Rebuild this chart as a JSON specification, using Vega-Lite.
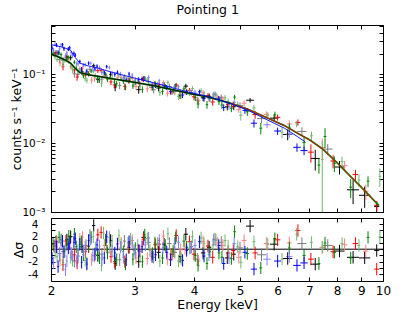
{
  "$schema": "https://vega.github.io/schema/vega-lite/v6.json",
  "background": "white",
  "padding": {"left": 10, "top": 4, "right": 20, "bottom": 2},
  "spacing": -4,
  "title": {"text": "Pointing 1", "fontSize": 12.5, "font": "DejaVu Sans", "fontWeight": "normal", "color": "#000", "anchor": "middle", "offset": 4, "dx": 7},
  "config": {
    "font": "DejaVu Sans",
    "view": {"stroke": "#000", "strokeWidth": 1},
    "axis": {"domain": false, "grid": false, "tickColor": "#000", "labelColor": "#000", "titleColor": "#000", "labelFont": "DejaVu Sans", "titleFont": "DejaVu Sans", "titleFontWeight": "normal", "labelFontSize": 11, "titleFontSize": 12.5, "tickSize": -4, "labelPadding": 7, "labelOverlap": false, "labelFlush": false}
  },
  "datasets": {
    "pts": [
      {"s":"k","e":2.05,"w":0.02,"v":0.205,"d":0.018,"r":1.2},
      {"s":"k2","e":2.085,"w":0.02,"v":0.163,"d":0.0175,"r":-0.7},
      {"s":"k2","e":2.12,"w":0.02,"v":0.161,"d":0.017,"r":-0.4},
      {"s":"k","e":2.16,"w":0.02,"v":0.179,"d":0.0156,"r":1.5},
      {"s":"k","e":2.2,"w":0.02,"v":0.174,"d":0.0145,"r":2.0},
      {"s":"k2","e":2.24,"w":0.02,"v":0.102,"d":0.0126,"r":-1.9},
      {"s":"k2","e":2.28,"w":0.02,"v":0.100,"d":0.011,"r":-1.1},
      {"s":"k","e":2.325,"w":0.02,"v":0.108,"d":0.0104,"r":0.4},
      {"s":"k2","e":2.37,"w":0.02,"v":0.107,"d":0.010,"r":0.6},
      {"s":"k2","e":2.415,"w":0.02,"v":0.119,"d":0.0098,"r":2.2},
      {"s":"k","e":2.46,"w":0.02,"v":0.133,"d":0.0097,"r":3.8},
      {"s":"k","e":2.51,"w":0.02,"v":0.0842,"d":0.0094,"r":-1.0},
      {"s":"k2","e":2.56,"w":0.02,"v":0.085,"d":0.0093,"r":-0.8},
      {"s":"k2","e":2.615,"w":0.02,"v":0.0947,"d":0.0089,"r":0.6},
      {"s":"k","e":2.67,"w":0.02,"v":0.100,"d":0.0088,"r":1.4},
      {"s":"k","e":2.73,"w":0.02,"v":0.0653,"d":0.0085,"r":-2.3},
      {"s":"k2","e":2.79,"w":0.02,"v":0.0689,"d":0.0083,"r":-1.7},
      {"s":"k2","e":2.855,"w":0.02,"v":0.0915,"d":0.0081,"r":1.3},
      {"s":"k","e":2.92,"w":0.02,"v":0.0814,"d":0.0079,"r":0.3},
      {"s":"k2","e":2.99,"w":0.02,"v":0.0753,"d":0.0077,"r":-0.2},
      {"s":"k","e":3.06,"w":0.035,"v":0.0598,"d":0.0075,"r":-2.0},
      {"s":"k","e":3.135,"w":0.035,"v":0.0866,"d":0.0073,"r":1.9},
      {"s":"k2","e":3.21,"w":0.035,"v":0.0786,"d":0.0071,"r":1.1},
      {"s":"k2","e":3.29,"w":0.035,"v":0.0596,"d":0.0069,"r":-1.3},
      {"s":"k","e":3.37,"w":0.035,"v":0.0632,"d":0.0067,"r":-0.5},
      {"s":"k","e":3.46,"w":0.035,"v":0.0687,"d":0.0064,"r":0.8},
      {"s":"k2","e":3.55,"w":0.04,"v":0.0667,"d":0.0061,"r":0.9},
      {"s":"k2","e":3.645,"w":0.04,"v":0.0561,"d":0.0059,"r":-0.5},
      {"s":"k","e":3.74,"w":0.04,"v":0.0497,"d":0.0057,"r":-1.2},
      {"s":"k","e":3.845,"w":0.04,"v":0.0673,"d":0.0054,"r":2.4},
      {"s":"k2","e":3.95,"w":0.04,"v":0.0543,"d":0.0052,"r":0.4},
      {"s":"k2","e":4.065,"w":0.045,"v":0.0423,"d":0.005,"r":-1.6},
      {"s":"k","e":4.18,"w":0.045,"v":0.0456,"d":0.0049,"r":-0.6},
      {"s":"k","e":4.305,"w":0.045,"v":0.0478,"d":0.0046,"r":0.3},
      {"s":"k2","e":4.43,"w":0.05,"v":0.0517,"d":0.0045,"r":1.6},
      {"s":"k2","e":4.565,"w":0.05,"v":0.0464,"d":0.0042,"r":1.1},
      {"s":"k","e":4.7,"w":0.05,"v":0.0337,"d":0.0039,"r":-1.4},
      {"s":"k","e":4.85,"w":0.05,"v":0.0338,"d":0.0037,"r":-0.8},
      {"s":"k2","e":5.0,"w":0.08,"v":0.0351,"d":0.0041,"r":0.2},
      {"s":"k","e":5.25,"w":0.1,"v":0.042,"d":0.0032,"r":3.7},
      {"s":"k2","e":5.55,"w":0.12,"v":0.0227,"d":0.0031,"r":-0.9},
      {"s":"k","e":5.9,"w":0.12,"v":0.0231,"d":0.0025,"r":0.8},
      {"s":"k","e":6.3,"w":0.14,"v":0.0134,"d":0.0024,"r":-1.5},
      {"s":"k2","e":6.75,"w":0.15,"v":0.0148,"d":0.0021,"r":0.9},
      {"s":"k","e":7.2,"w":0.16,"v":0.006,"d":0.002,"r":-2.4},
      {"s":"k2","e":7.65,"w":0.18,"v":0.0082,"d":0.0015,"r":0.6},
      {"s":"k","e":8.1,"w":0.2,"v":0.0045,"d":0.001,"r":-0.3},
      {"s":"k","e":8.65,"w":0.25,"v":0.0021,"d":0.0008,"r":-1.3},
      {"s":"k","e":9.15,"w":0.25,"v":0.00175,"d":0.0006,"r":-1.4},
      {"s":"k","e":9.7,"w":0.12,"v":0.0012,"d":0.0002,"r":-0.2},
      {"s":"r","e":2.03,"w":0.015,"v":0.197,"d":0.017,"r":0.5},
      {"s":"r2","e":2.06,"w":0.015,"v":0.201,"d":0.0165,"r":1.1},
      {"s":"r2","e":2.09,"w":0.015,"v":0.146,"d":0.0157,"r":-1.8},
      {"s":"r","e":2.12,"w":0.015,"v":0.129,"d":0.015,"r":-2.5},
      {"s":"r","e":2.15,"w":0.015,"v":0.176,"d":0.0142,"r":1.3},
      {"s":"r2","e":2.18,"w":0.015,"v":0.155,"d":0.0136,"r":0.3},
      {"s":"r2","e":2.21,"w":0.015,"v":0.132,"d":0.0127,"r":-0.7},
      {"s":"r","e":2.24,"w":0.015,"v":0.116,"d":0.0113,"r":-0.9},
      {"s":"r","e":2.27,"w":0.015,"v":0.091,"d":0.0103,"r":-2.2},
      {"s":"r2","e":2.30,"w":0.015,"v":0.121,"d":0.0095,"r":1.6},
      {"s":"r2","e":2.33,"w":0.015,"v":0.122,"d":0.0094,"r":1.9},
      {"s":"r","e":2.365,"w":0.015,"v":0.0974,"d":0.0091,"r":-0.4},
      {"s":"r","e":2.40,"w":0.015,"v":0.1015,"d":0.0088,"r":0.4},
      {"s":"r2","e":2.435,"w":0.015,"v":0.0822,"d":0.0087,"r":-1.7},
      {"s":"r2","e":2.47,"w":0.015,"v":0.086,"d":0.0086,"r":-1.1},
      {"s":"r","e":2.51,"w":0.02,"v":0.1129,"d":0.0084,"r":2.3},
      {"s":"r","e":2.55,"w":0.02,"v":0.114,"d":0.0083,"r":2.7},
      {"s":"r2","e":2.59,"w":0.02,"v":0.0954,"d":0.0081,"r":0.6},
      {"s":"r2","e":2.63,"w":0.02,"v":0.085,"d":0.008,"r":-0.5},
      {"s":"r","e":2.675,"w":0.02,"v":0.0776,"d":0.0078,"r":-1.2},
      {"s":"r","e":2.72,"w":0.02,"v":0.070,"d":0.0077,"r":-2.0},
      {"s":"r2","e":2.765,"w":0.02,"v":0.0904,"d":0.0075,"r":0.9},
      {"s":"r2","e":2.81,"w":0.02,"v":0.090,"d":0.0074,"r":1.0},
      {"s":"r","e":2.86,"w":0.02,"v":0.0664,"d":0.0073,"r":-2.0},
      {"s":"r","e":2.91,"w":0.02,"v":0.0816,"d":0.0072,"r":0.3},
      {"s":"r2","e":2.965,"w":0.025,"v":0.0874,"d":0.007,"r":1.4},
      {"s":"r2","e":3.02,"w":0.025,"v":0.0664,"d":0.0068,"r":-1.4},
      {"s":"r","e":3.075,"w":0.025,"v":0.0725,"d":0.0067,"r":-0.3},
      {"s":"r","e":3.13,"w":0.025,"v":0.0835,"d":0.0066,"r":1.6},
      {"s":"r2","e":3.19,"w":0.025,"v":0.0614,"d":0.0064,"r":-1.5},
      {"s":"r2","e":3.25,"w":0.03,"v":0.0643,"d":0.0063,"r":-0.9},
      {"s":"r","e":3.315,"w":0.03,"v":0.0719,"d":0.0061,"r":0.7},
      {"s":"r","e":3.38,"w":0.03,"v":0.0705,"d":0.0059,"r":0.8},
      {"s":"r2","e":3.45,"w":0.03,"v":0.0759,"d":0.0057,"r":2.1},
      {"s":"r2","e":3.52,"w":0.03,"v":0.0531,"d":0.0056,"r":-1.6},
      {"s":"r","e":3.595,"w":0.035,"v":0.0558,"d":0.0054,"r":-0.8},
      {"s":"r","e":3.67,"w":0.035,"v":0.0697,"d":0.0052,"r":2.2},
      {"s":"r2","e":3.75,"w":0.035,"v":0.0558,"d":0.0051,"r":-0.1},
      {"s":"r2","e":3.83,"w":0.035,"v":0.0550,"d":0.0049,"r":0.1},
      {"s":"r","e":3.915,"w":0.04,"v":0.0585,"d":0.0048,"r":1.2},
      {"s":"r","e":4.0,"w":0.04,"v":0.0471,"d":0.0051,"r":-0.8},
      {"s":"r2","e":4.09,"w":0.04,"v":0.0412,"d":0.0045,"r":-1.9},
      {"s":"r2","e":4.18,"w":0.04,"v":0.0540,"d":0.0048,"r":1.2},
      {"s":"r","e":4.28,"w":0.045,"v":0.0489,"d":0.0042,"r":0.5},
      {"s":"r","e":4.38,"w":0.045,"v":0.0396,"d":0.0046,"r":-1.3},
      {"s":"r2","e":4.49,"w":0.045,"v":0.0468,"d":0.0039,"r":1.0},
      {"s":"r2","e":4.6,"w":0.05,"v":0.0437,"d":0.0041,"r":0.6},
      {"s":"r","e":4.72,"w":0.05,"v":0.0368,"d":0.0035,"r":-0.6},
      {"s":"r","e":4.84,"w":0.05,"v":0.0361,"d":0.0037,"r":-0.2},
      {"s":"r2","e":4.97,"w":0.06,"v":0.0306,"d":0.0031,"r":-1.3},
      {"s":"r2","e":5.1,"w":0.06,"v":0.0380,"d":0.0039,"r":1.4},
      {"s":"r","e":5.38,"w":0.07,"v":0.026,"d":0.0034,"r":-0.6},
      {"s":"r2","e":5.68,"w":0.07,"v":0.0261,"d":0.0028,"r":0.9},
      {"s":"r","e":6.0,"w":0.08,"v":0.0237,"d":0.0024,"r":1.5},
      {"s":"r2","e":6.35,"w":0.08,"v":0.0190,"d":0.0025,"r":1.0},
      {"s":"r","e":6.62,"w":0.08,"v":0.0200,"d":0.0021,"r":3.0},
      {"s":"r","e":7.05,"w":0.1,"v":0.0074,"d":0.0022,"r":-1.6},
      {"s":"r2","e":7.45,"w":0.1,"v":0.0086,"d":0.003,"r":0.3},
      {"s":"r","e":7.85,"w":0.1,"v":0.0055,"d":0.0012,"r":-0.4},
      {"s":"r2","e":8.3,"w":0.12,"v":0.0047,"d":0.0008,"r":0.7},
      {"s":"r","e":8.75,"w":0.12,"v":0.0035,"d":0.0006,"r":0.9},
      {"s":"r2","e":9.2,"w":0.12,"v":0.0020,"d":0.0005,"r":-0.3},
      {"s":"r","e":9.7,"w":0.12,"v":0.00125,"d":0.0002,"r":-3.2},
      {"s":"g","e":2.02,"w":0.012,"v":0.202,"d":0.015,"r":0.8},
      {"s":"g2","e":2.04,"w":0.012,"v":0.1795,"d":0.015,"r":-0.5},
      {"s":"g2","e":2.06,"w":0.012,"v":0.164,"d":0.0145,"r":-1.2},
      {"s":"g","e":2.08,"w":0.012,"v":0.204,"d":0.0142,"r":1.9},
      {"s":"g","e":2.10,"w":0.012,"v":0.193,"d":0.0138,"r":1.5},
      {"s":"g2","e":2.12,"w":0.012,"v":0.139,"d":0.0134,"r":-2.1},
      {"s":"g2","e":2.14,"w":0.012,"v":0.158,"d":0.013,"r":-0.3},
      {"s":"g","e":2.16,"w":0.012,"v":0.166,"d":0.0125,"r":0.8},
      {"s":"g","e":2.18,"w":0.012,"v":0.176,"d":0.012,"r":2.1},
      {"s":"g2","e":2.20,"w":0.012,"v":0.130,"d":0.0116,"r":-1.3},
      {"s":"g2","e":2.22,"w":0.012,"v":0.116,"d":0.011,"r":-1.8},
      {"s":"g","e":2.24,"w":0.012,"v":0.150,"d":0.0101,"r":2.4},
      {"s":"g","e":2.26,"w":0.012,"v":0.123,"d":0.0095,"r":0.4},
      {"s":"g2","e":2.28,"w":0.012,"v":0.110,"d":0.009,"r":-0.2},
      {"s":"g2","e":2.30,"w":0.012,"v":0.115,"d":0.0085,"r":1.1},
      {"s":"g","e":2.32,"w":0.012,"v":0.114,"d":0.0083,"r":1.2},
      {"s":"g","e":2.34,"w":0.012,"v":0.0956,"d":0.0082,"r":-0.9},
      {"s":"g2","e":2.36,"w":0.012,"v":0.0865,"d":0.0081,"r":-1.8},
      {"s":"g2","e":2.38,"w":0.012,"v":0.0820,"d":0.008,"r":-2.2},
      {"s":"g","e":2.40,"w":0.012,"v":0.102,"d":0.0078,"r":0.5},
      {"s":"g","e":2.43,"w":0.012,"v":0.1117,"d":0.0078,"r":1.9},
      {"s":"g2","e":2.455,"w":0.012,"v":0.111,"d":0.0077,"r":2.0},
      {"s":"g2","e":2.48,"w":0.012,"v":0.0965,"d":0.0076,"r":0.2},
      {"s":"g","e":2.505,"w":0.012,"v":0.0872,"d":0.0075,"r":-0.9},
      {"s":"g","e":2.53,"w":0.012,"v":0.0826,"d":0.0074,"r":-1.4},
      {"s":"g2","e":2.555,"w":0.012,"v":0.0726,"d":0.0073,"r":-2.6},
      {"s":"g2","e":2.58,"w":0.012,"v":0.110,"d":0.0073,"r":2.6},
      {"s":"g","e":2.605,"w":0.012,"v":0.1002,"d":0.0072,"r":1.5},
      {"s":"g","e":2.63,"w":0.012,"v":0.0847,"d":0.0071,"r":-0.6},
      {"s":"g2","e":2.66,"w":0.012,"v":0.0896,"d":0.007,"r":0.3},
      {"s":"g2","e":2.69,"w":0.012,"v":0.0955,"d":0.0069,"r":1.3},
      {"s":"g","e":2.72,"w":0.012,"v":0.0775,"d":0.0068,"r":-1.1},
      {"s":"g","e":2.75,"w":0.012,"v":0.073,"d":0.0068,"r":-1.7},
      {"s":"g2","e":2.78,"w":0.012,"v":0.0978,"d":0.0067,"r":2.2},
      {"s":"g2","e":2.81,"w":0.012,"v":0.0871,"d":0.0066,"r":0.7},
      {"s":"g","e":2.84,"w":0.012,"v":0.0789,"d":0.0065,"r":-0.4},
      {"s":"g","e":2.87,"w":0.012,"v":0.065,"d":0.0064,"r":-2.4},
      {"s":"g2","e":2.905,"w":0.012,"v":0.0859,"d":0.0064,"r":1.0},
      {"s":"g2","e":2.94,"w":0.012,"v":0.0885,"d":0.0063,"r":1.6},
      {"s":"g","e":2.975,"w":0.015,"v":0.0674,"d":0.0062,"r":-1.6},
      {"s":"g","e":3.01,"w":0.015,"v":0.0769,"d":0.0069,"r":0.1},
      {"s":"g2","e":3.045,"w":0.015,"v":0.0793,"d":0.0068,"r":0.6},
      {"s":"g2","e":3.08,"w":0.015,"v":0.0671,"d":0.0067,"r":-1.1},
      {"s":"g","e":3.115,"w":0.015,"v":0.0601,"d":0.0066,"r":-2.0},
      {"s":"g","e":3.15,"w":0.015,"v":0.0875,"d":0.0065,"r":2.3},
      {"s":"g2","e":3.19,"w":0.02,"v":0.0819,"d":0.0064,"r":1.7},
      {"s":"g2","e":3.23,"w":0.02,"v":0.0692,"d":0.0063,"r":-0.2},
      {"s":"g","e":3.27,"w":0.02,"v":0.0645,"d":0.0062,"r":-0.7},
      {"s":"g","e":3.31,"w":0.02,"v":0.0739,"d":0.0061,"r":1.0},
      {"s":"g2","e":3.35,"w":0.02,"v":0.072,"d":0.006,"r":0.9},
      {"s":"g2","e":3.39,"w":0.02,"v":0.0543,"d":0.0059,"r":-1.9},
      {"s":"g","e":3.435,"w":0.02,"v":0.0563,"d":0.0058,"r":-1.4},
      {"s":"g","e":3.48,"w":0.02,"v":0.0664,"d":0.0057,"r":0.6},
      {"s":"g2","e":3.525,"w":0.02,"v":0.076,"d":0.0056,"r":2.5},
      {"s":"g2","e":3.57,"w":0.02,"v":0.0564,"d":0.0055,"r":-0.8},
      {"s":"g","e":3.615,"w":0.02,"v":0.0581,"d":0.0054,"r":-0.3},
      {"s":"g","e":3.66,"w":0.02,"v":0.0680,"d":0.0053,"r":1.8},
      {"s":"g2","e":3.71,"w":0.025,"v":0.0474,"d":0.0051,"r":-1.9},
      {"s":"g2","e":3.76,"w":0.025,"v":0.0484,"d":0.005,"r":-1.5},
      {"s":"g","e":3.81,"w":0.025,"v":0.0614,"d":0.005,"r":1.3},
      {"s":"g","e":3.86,"w":0.025,"v":0.0556,"d":0.0054,"r":0.3},
      {"s":"g2","e":3.915,"w":0.025,"v":0.0539,"d":0.0053,"r":0.2},
      {"s":"g2","e":3.97,"w":0.025,"v":0.0622,"d":0.0052,"r":2.0},
      {"s":"g","e":4.025,"w":0.025,"v":0.0459,"d":0.0051,"r":-1.0},
      {"s":"g","e":4.08,"w":0.025,"v":0.037,"d":0.005,"r":-2.6},
      {"s":"g2","e":4.14,"w":0.025,"v":0.0578,"d":0.0049,"r":1.8},
      {"s":"g2","e":4.20,"w":0.025,"v":0.0523,"d":0.0048,"r":0.9},
      {"s":"g","e":4.26,"w":0.025,"v":0.0363,"d":0.0047,"r":-2.3},
      {"s":"g","e":4.32,"w":0.025,"v":0.0444,"d":0.0046,"r":-0.4},
      {"s":"g2","e":4.385,"w":0.03,"v":0.0478,"d":0.0045,"r":0.7},
      {"s":"g2","e":4.45,"w":0.03,"v":0.0496,"d":0.0044,"r":1.4},
      {"s":"g","e":4.515,"w":0.03,"v":0.04,"d":0.0043,"r":-0.6},
      {"s":"g","e":4.58,"w":0.03,"v":0.0357,"d":0.0041,"r":-1.3},
      {"s":"g2","e":4.65,"w":0.03,"v":0.0458,"d":0.004,"r":1.4},
      {"s":"g2","e":4.72,"w":0.03,"v":0.0407,"d":0.0039,"r":0.5},
      {"s":"g","e":4.795,"w":0.03,"v":0.032,"d":0.0038,"r":-1.5},
      {"s":"g","e":4.87,"w":0.03,"v":0.0467,"d":0.0037,"r":2.8},
      {"s":"g2","e":4.945,"w":0.03,"v":0.0366,"d":0.0035,"r":0.4},
      {"s":"g2","e":5.02,"w":0.04,"v":0.0254,"d":0.0041,"r":-2.1},
      {"s":"g","e":5.18,"w":0.04,"v":0.0286,"d":0.0037,"r":-0.7},
      {"s":"g2","e":5.35,"w":0.04,"v":0.0326,"d":0.0034,"r":1.2},
      {"s":"g","e":5.53,"w":0.04,"v":0.0165,"d":0.0031,"r":-3.0},
      {"s":"g2","e":5.72,"w":0.04,"v":0.0254,"d":0.0028,"r":0.8},
      {"s":"g","e":5.92,"w":0.04,"v":0.0258,"d":0.0029,"r":1.7},
      {"s":"g2","e":6.13,"w":0.04,"v":0.0144,"d":0.0026,"r":-1.6},
      {"s":"g","e":6.35,"w":0.04,"v":0.0170,"d":0.0023,"r":0.2},
      {"s":"g2","e":6.58,"w":0.04,"v":0.0190,"d":0.002,"r":2.4},
      {"s":"g","e":6.82,"w":0.05,"v":0.0102,"d":0.0022,"r":-1.0},
      {"s":"g2","e":7.07,"w":0.05,"v":0.0128,"d":0.0019,"r":1.1},
      {"s":"g","e":7.33,"w":0.05,"v":0.0048,"d":0.0012,"r":-2.3},
      {"s":"g2","e":7.45,"w":0.05,"v":0.0058,"d":0.0048,"r":0.3},
      {"s":"g","e":7.55,"w":0.05,"v":0.0125,"d":0.004,"r":1.0},
      {"s":"g","e":7.9,"w":0.06,"v":0.0051,"d":0.0013,"r":-0.5},
      {"s":"g2","e":8.2,"w":0.06,"v":0.0054,"d":0.001,"r":0.9},
      {"s":"g","e":8.55,"w":0.06,"v":0.0023,"d":0.0007,"r":-1.4},
      {"s":"g2","e":8.9,"w":0.06,"v":0.0029,"d":0.0006,"r":0.6},
      {"s":"g","e":9.3,"w":0.06,"v":0.0028,"d":0.0005,"r":1.9},
      {"s":"g2","e":9.85,"w":0.06,"v":0.0033,"d":0.001,"r":2.0},
      {"s":"b","e":2.01,"w":0.01,"v":0.240,"d":0.019,"r":-1.5},
      {"s":"b2","e":2.025,"w":0.01,"v":0.224,"d":0.0186,"r":-2.2},
      {"s":"b2","e":2.04,"w":0.01,"v":0.273,"d":0.018,"r":0.6},
      {"s":"b","e":2.055,"w":0.01,"v":0.266,"d":0.0181,"r":0.4},
      {"s":"b","e":2.07,"w":0.01,"v":0.206,"d":0.018,"r":-2.8},
      {"s":"b2","e":2.085,"w":0.01,"v":0.235,"d":0.0177,"r":-1.0},
      {"s":"b2","e":2.10,"w":0.01,"v":0.268,"d":0.0175,"r":1.0},
      {"s":"b","e":2.115,"w":0.01,"v":0.268,"d":0.0172,"r":1.3},
      {"s":"b","e":2.13,"w":0.01,"v":0.235,"d":0.017,"r":-0.4},
      {"s":"b2","e":2.145,"w":0.01,"v":0.184,"d":0.0167,"r":-3.3},
      {"s":"b2","e":2.16,"w":0.01,"v":0.204,"d":0.0165,"r":-1.9},
      {"s":"b","e":2.175,"w":0.01,"v":0.233,"d":0.0161,"r":0.2},
      {"s":"b","e":2.19,"w":0.01,"v":0.242,"d":0.016,"r":0.9},
      {"s":"b2","e":2.205,"w":0.01,"v":0.206,"d":0.0152,"r":-0.7},
      {"s":"b2","e":2.22,"w":0.01,"v":0.188,"d":0.014,"r":-1.2},
      {"s":"b","e":2.235,"w":0.01,"v":0.202,"d":0.0132,"r":1.1},
      {"s":"b","e":2.25,"w":0.01,"v":0.190,"d":0.012,"r":1.7},
      {"s":"b2","e":2.265,"w":0.01,"v":0.143,"d":0.0116,"r":-1.9},
      {"s":"b2","e":2.28,"w":0.01,"v":0.142,"d":0.0105,"r":-0.8},
      {"s":"b","e":2.30,"w":0.01,"v":0.153,"d":0.0102,"r":0.8},
      {"s":"b","e":2.32,"w":0.01,"v":0.118,"d":0.0097,"r":-2.1},
      {"s":"b2","e":2.34,"w":0.01,"v":0.136,"d":0.0097,"r":-0.3},
      {"s":"b2","e":2.36,"w":0.01,"v":0.138,"d":0.0095,"r":0.3},
      {"s":"b","e":2.38,"w":0.01,"v":0.111,"d":0.0094,"r":-2.4},
      {"s":"b","e":2.40,"w":0.01,"v":0.145,"d":0.0092,"r":1.4},
      {"s":"b2","e":2.425,"w":0.01,"v":0.145,"d":0.0091,"r":1.6},
      {"s":"b2","e":2.45,"w":0.01,"v":0.119,"d":0.009,"r":-1.0},
      {"s":"b","e":2.475,"w":0.01,"v":0.119,"d":0.0088,"r":-0.8},
      {"s":"b","e":2.50,"w":0.01,"v":0.131,"d":0.0088,"r":0.7},
      {"s":"b2","e":2.53,"w":0.012,"v":0.125,"d":0.0085,"r":0.5},
      {"s":"b2","e":2.56,"w":0.012,"v":0.106,"d":0.0083,"r":-1.6},
      {"s":"b","e":2.59,"w":0.012,"v":0.105,"d":0.0081,"r":-1.4},
      {"s":"b","e":2.62,"w":0.012,"v":0.129,"d":0.0079,"r":2.0},
      {"s":"b2","e":2.655,"w":0.012,"v":0.125,"d":0.0077,"r":1.9},
      {"s":"b2","e":2.69,"w":0.012,"v":0.104,"d":0.0074,"r":-0.3},
      {"s":"b","e":2.725,"w":0.012,"v":0.0996,"d":0.0073,"r":-0.6},
      {"s":"b","e":2.76,"w":0.012,"v":0.107,"d":0.0071,"r":0.8},
      {"s":"b2","e":2.80,"w":0.012,"v":0.1016,"d":0.007,"r":0.3},
      {"s":"b2","e":2.84,"w":0.012,"v":0.087,"d":0.0067,"r":-1.3},
      {"s":"b","e":2.88,"w":0.012,"v":0.0833,"d":0.0066,"r":-1.7},
      {"s":"b","e":2.92,"w":0.012,"v":0.101,"d":0.0074,"r":1.2},
      {"s":"b2","e":2.965,"w":0.015,"v":0.097,"d":0.0072,"r":1.0},
      {"s":"b2","e":3.01,"w":0.015,"v":0.0833,"d":0.007,"r":-0.6},
      {"s":"b","e":3.06,"w":0.015,"v":0.0839,"d":0.0068,"r":-0.2},
      {"s":"b","e":3.11,"w":0.015,"v":0.0857,"d":0.0066,"r":0.4},
      {"s":"b2","e":3.16,"w":0.02,"v":0.0853,"d":0.0065,"r":0.7},
      {"s":"b2","e":3.21,"w":0.02,"v":0.0901,"d":0.0063,"r":1.8},
      {"s":"b","e":3.265,"w":0.02,"v":0.0691,"d":0.0061,"r":-1.2},
      {"s":"b","e":3.32,"w":0.02,"v":0.0690,"d":0.0059,"r":-0.9},
      {"s":"b2","e":3.38,"w":0.02,"v":0.08,"d":0.0058,"r":1.4},
      {"s":"b2","e":3.44,"w":0.02,"v":0.0711,"d":0.0056,"r":0.2},
      {"s":"b","e":3.505,"w":0.025,"v":0.0646,"d":0.0054,"r":-0.5},
      {"s":"b","e":3.57,"w":0.025,"v":0.0563,"d":0.0052,"r":-1.7},
      {"s":"b2","e":3.64,"w":0.025,"v":0.0672,"d":0.005,"r":0.9},
      {"s":"b2","e":3.71,"w":0.025,"v":0.0658,"d":0.0048,"r":1.1},
      {"s":"b","e":3.785,"w":0.025,"v":0.05,"d":0.0047,"r":-1.8},
      {"s":"b","e":3.86,"w":0.025,"v":0.0551,"d":0.0045,"r":-0.2},
      {"s":"b2","e":3.94,"w":0.03,"v":0.055,"d":0.0043,"r":0.2},
      {"s":"b2","e":4.02,"w":0.03,"v":0.0553,"d":0.0042,"r":0.6},
      {"s":"b","e":4.11,"w":0.03,"v":0.0557,"d":0.0041,"r":1.2},
      {"s":"b","e":4.2,"w":0.03,"v":0.0446,"d":0.0045,"r":-1.1},
      {"s":"b2","e":4.3,"w":0.03,"v":0.0441,"d":0.0038,"r":-0.9},
      {"s":"b2","e":4.4,"w":0.03,"v":0.0516,"d":0.0041,"r":1.5},
      {"s":"b","e":4.51,"w":0.04,"v":0.0449,"d":0.0034,"r":0.6},
      {"s":"b","e":4.62,"w":0.04,"v":0.0329,"d":0.0037,"r":-2.3},
      {"s":"b2","e":4.74,"w":0.04,"v":0.0337,"d":0.003,"r":-1.4},
      {"s":"b2","e":4.86,"w":0.04,"v":0.0391,"d":0.0033,"r":0.9},
      {"s":"b","e":5.12,"w":0.06,"v":0.0299,"d":0.0032,"r":-0.5},
      {"s":"b","e":5.35,"w":0.08,"v":0.0195,"d":0.0026,"r":-3.2},
      {"s":"b2","e":5.7,"w":0.1,"v":0.0185,"d":0.002,"r":-1.6},
      {"s":"b","e":6.0,"w":0.1,"v":0.0150,"d":0.0018,"r":-1.9},
      {"s":"b2","e":6.35,"w":0.1,"v":0.0135,"d":0.0016,"r":-1.2},
      {"s":"b","e":6.59,"w":0.12,"v":0.0087,"d":0.0012,"r":-2.6},
      {"s":"b","e":6.82,"w":0.12,"v":0.0078,"d":0.0011,"r":-2.2}
    ],
    "mod": [
      {"m":"g","e":2.0,"v":0.195},{"m":"g","e":2.05,"v":0.185},{"m":"g","e":2.1,"v":0.172},{"m":"g","e":2.15,"v":0.159},{"m":"g","e":2.2,"v":0.145},{"m":"g","e":2.25,"v":0.122},{"m":"g","e":2.3,"v":0.106},{"m":"g","e":2.4,"v":0.098},{"m":"g","e":2.5,"v":0.094},{"m":"g","e":2.7,"v":0.086},{"m":"g","e":3.0,"v":0.0765},{"m":"g","e":3.3,"v":0.068},{"m":"g","e":3.6,"v":0.060},{"m":"g","e":3.9,"v":0.053},{"m":"g","e":4.3,"v":0.0465},{"m":"g","e":4.8,"v":0.0375},{"m":"g","e":5.2,"v":0.031},{"m":"g","e":5.65,"v":0.024},{"m":"g","e":6.2,"v":0.018},{"m":"g","e":6.65,"v":0.0136},{"m":"g","e":7.0,"v":0.0112},{"m":"g","e":7.45,"v":0.0083},{"m":"g","e":8.0,"v":0.0052},{"m":"g","e":8.5,"v":0.0034},{"m":"g","e":9.0,"v":0.0023},{"m":"g","e":9.66,"v":0.00138},{"m":"g","e":9.8,"v":0.00125},
      {"m":"k","e":2.0,"v":0.195},{"m":"k","e":2.05,"v":0.185},{"m":"k","e":2.1,"v":0.172},{"m":"k","e":2.15,"v":0.159},{"m":"k","e":2.2,"v":0.145},{"m":"k","e":2.25,"v":0.122},{"m":"k","e":2.3,"v":0.106},{"m":"k","e":2.4,"v":0.098},{"m":"k","e":2.5,"v":0.094},{"m":"k","e":2.7,"v":0.086},{"m":"k","e":3.0,"v":0.0765},{"m":"k","e":3.3,"v":0.068},{"m":"k","e":3.6,"v":0.060},{"m":"k","e":3.9,"v":0.053},{"m":"k","e":4.3,"v":0.0465},{"m":"k","e":4.8,"v":0.0375},
      {"m":"r","e":4.8,"v":0.0375},{"m":"r","e":5.2,"v":0.031},{"m":"r","e":5.65,"v":0.024},{"m":"r","e":6.2,"v":0.018},{"m":"r","e":6.65,"v":0.0136},{"m":"r","e":7.0,"v":0.0112},{"m":"r","e":7.45,"v":0.0083},{"m":"r","e":8.0,"v":0.0052},{"m":"r","e":8.5,"v":0.0034},{"m":"r","e":9.0,"v":0.0023},{"m":"r","e":9.66,"v":0.00138},
      {"m":"b","e":2.0,"v":0.27},{"m":"b","e":2.05,"v":0.26},{"m":"b","e":2.1,"v":0.25},{"m":"b","e":2.15,"v":0.238},{"m":"b","e":2.2,"v":0.222},{"m":"b","e":2.25,"v":0.175},{"m":"b","e":2.3,"v":0.145},{"m":"b","e":2.4,"v":0.132},{"m":"b","e":2.5,"v":0.124},{"m":"b","e":2.7,"v":0.106},{"m":"b","e":3.0,"v":0.088},{"m":"b","e":3.3,"v":0.075},{"m":"b","e":3.6,"v":0.064},{"m":"b","e":3.9,"v":0.055},{"m":"b","e":4.3,"v":0.0475},{"m":"b","e":4.8,"v":0.037},{"m":"b","e":5.2,"v":0.030},{"m":"b","e":5.65,"v":0.0225},{"m":"b","e":6.2,"v":0.0165},{"m":"b","e":6.6,"v":0.0125},{"m":"b","e":6.85,"v":0.0105}
    ]
  },
  "vconcat": [
    {
      "width": 332,
      "height": 187,
      "layer": [
        {
          "data": {"name": "pts"},
          "mark": {"type": "errorbar", "clip": true},
          "encoding": {
            "x": {"field": "e", "type": "quantitative", "scale": {"type": "log", "domain": [2, 10], "nice": false}, "axis": null},
            "xError": {"field": "w"},
            "y": {"field": "v", "type": "quantitative", "scale": {"type": "log", "domain": [0.001, 0.52], "nice": false}, "axis": null},
            "color": {"field": "s", "type": "nominal", "scale": {"domain": ["k","k2","r","r2","g","g2","b","b2"], "range": ["#000000","#7a7a7a","#ff0000","#ff8080","#008000","#70b870","#0000ff","#7f7fff"]}, "legend": null}
          }
        },
        {
          "data": {"name": "pts"},
          "mark": {"type": "errorbar", "clip": true},
          "encoding": {
            "x": {"field": "e", "type": "quantitative", "axis": null},
            "y": {"field": "v", "type": "quantitative", "axis": null},
            "yError": {"field": "d"},
            "color": {"field": "s", "type": "nominal", "legend": null}
          }
        },
        {
          "data": {"name": "mod"},
          "transform": [{"filter": "datum.m == 'g'"}],
          "mark": {"type": "line", "clip": true, "strokeWidth": 1.8},
          "encoding": {
            "x": {"field": "e", "type": "quantitative", "axis": null},
            "y": {"field": "v", "type": "quantitative", "axis": null},
            "color": {"field": "m", "type": "nominal", "legend": null}
          }
        },
        {
          "data": {"name": "mod"},
          "transform": [{"filter": "datum.m != 'g'"}],
          "mark": {"type": "line", "clip": true, "strokeWidth": 0.9},
          "encoding": {
            "x": {"field": "e", "type": "quantitative", "axis": null},
            "y": {"field": "v", "type": "quantitative", "axis": null},
            "color": {"field": "m", "type": "nominal", "legend": null}
          }
        },
        {
          "data": {"name": "pts"},
          "mark": {"type": "point", "opacity": 0, "clip": true},
          "encoding": {
            "x": {"field": "e", "type": "quantitative", "axis": {"orient": "bottom", "values": [2,3,4,5,6,7,8,9,10], "labels": false, "title": null}},
            "y": {"field": "v", "type": "quantitative", "axis": {"orient": "left", "values": [0.001,0.002,0.003,0.004,0.005,0.006,0.007,0.008,0.009,0.01,0.02,0.03,0.04,0.05,0.06,0.07,0.08,0.09,0.1,0.2,0.3,0.4,0.5], "labelExpr": "datum.value == 0.1 ? '10⁻¹' : datum.value == 0.01 ? '10⁻²' : datum.value == 0.001 ? '10⁻³' : ''", "labelFontSize": 10.5, "labelPadding": 10, "title": "counts s⁻¹ keV⁻¹", "titlePadding": -2}}
          }
        },
        {
          "data": {"name": "pts"},
          "mark": {"type": "point", "opacity": 0, "clip": true},
          "encoding": {
            "x": {"field": "e", "type": "quantitative", "axis": {"orient": "top", "values": [2,3,4,5,6,7,8,9,10], "labels": false, "title": null}},
            "y": {"field": "v", "type": "quantitative", "axis": {"orient": "right", "values": [0.001,0.002,0.003,0.004,0.005,0.006,0.007,0.008,0.009,0.01,0.02,0.03,0.04,0.05,0.06,0.07,0.08,0.09,0.1,0.2,0.3,0.4,0.5], "labels": false, "title": null}}
          }
        }
      ]
    },
    {
      "width": 332,
      "height": 63,
      "layer": [
        {
          "data": {"values": [{"z": 0}]},
          "mark": {"type": "rule", "color": "#000", "strokeWidth": 1},
          "encoding": {"y": {"field": "z", "type": "quantitative", "scale": {"domain": [-5.1, 5], "nice": false}, "axis": null}}
        },
        {
          "data": {"name": "pts"},
          "mark": {"type": "errorbar", "clip": true},
          "encoding": {
            "x": {"field": "e", "type": "quantitative", "scale": {"type": "log", "domain": [2, 10], "nice": false}, "axis": null},
            "xError": {"field": "w"},
            "y": {"field": "r", "type": "quantitative", "axis": null},
            "color": {"field": "s", "type": "nominal", "scale": {"domain": ["k","k2","r","r2","g","g2","b","b2"], "range": ["#000000","#7a7a7a","#ff0000","#ff8080","#008000","#70b870","#0000ff","#7f7fff"]}, "legend": null}
          }
        },
        {
          "data": {"name": "pts"},
          "mark": {"type": "tick", "orient": "vertical", "size": 12.4, "thickness": 1, "opacity": 1, "clip": true},
          "encoding": {
            "x": {"field": "e", "type": "quantitative", "axis": null},
            "y": {"field": "r", "type": "quantitative", "axis": null},
            "color": {"field": "s", "type": "nominal", "legend": null}
          }
        },
        {
          "data": {"name": "pts"},
          "mark": {"type": "point", "opacity": 0, "clip": true},
          "encoding": {
            "x": {"field": "e", "type": "quantitative", "axis": {"orient": "bottom", "values": [2,3,4,5,6,7,8,9,10], "format": "d", "labelFontSize": 12, "labelPadding": 8, "title": "Energy [keV]", "titlePadding": 2}},
            "y": {"field": "r", "type": "quantitative", "axis": {"orient": "left", "values": [-4,-3,-2,-1,0,1,2,3,4], "labelExpr": "datum.value % 2 == 0 ? toString(datum.value) : ''", "labelFontSize": 10.5, "labelPadding": 17, "title": "Δσ", "titlePadding": 2}}
          }
        },
        {
          "data": {"name": "pts"},
          "mark": {"type": "point", "opacity": 0, "clip": true},
          "encoding": {
            "x": {"field": "e", "type": "quantitative", "axis": {"orient": "top", "values": [2,3,4,5,6,7,8,9,10], "labels": false, "title": null}},
            "y": {"field": "r", "type": "quantitative", "axis": {"orient": "right", "values": [-4,-3,-2,-1,0,1,2,3,4], "labels": false, "title": null}}
          }
        }
      ]
    }
  ]
}
